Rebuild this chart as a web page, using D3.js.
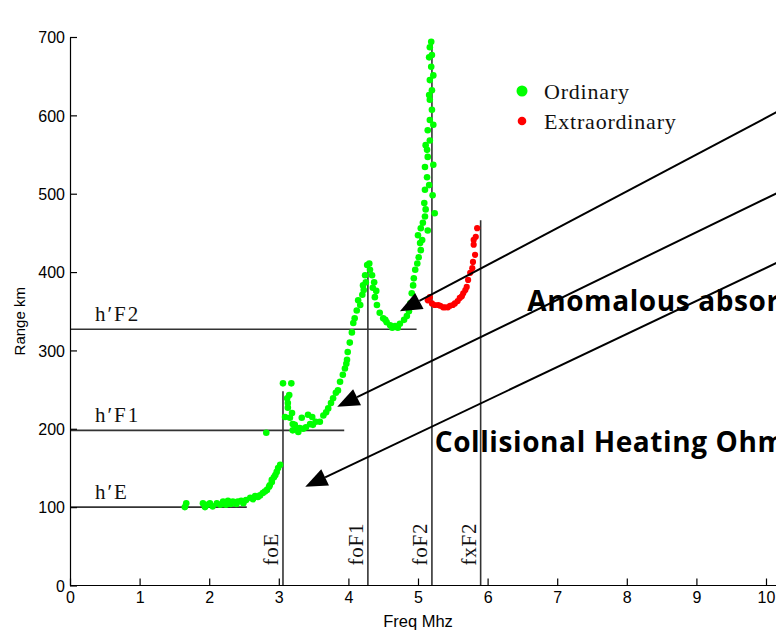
<!DOCTYPE html>
<html><head><meta charset="utf-8">
<script src="https://cdn.jsdelivr.net/npm/d3@7"></script>
<style>body{margin:0;background:#fff}svg{display:block}</style>
</head><body>
<svg id="c" width="776" height="636"></svg>
<script>
// ---- data (freq MHz, range km) ----
const xTicks = [0,1,2,3,4,5,6,7,8,9,10];
const yTicks = [0,100,200,300,400,500,600,700];
const ordinary = [
[1.65,100],[1.67,105],[1.91,105],[1.94,100],[1.97,103],[2.01,105],[2.05,101],[2.11,105],[2.16,103],[2.20,107],
[2.24,103],[2.27,108],[2.31,104],[2.34,107],[2.39,104],[2.41,107],[2.46,108],[2.49,105],[2.53,109],[2.59,112],
[2.63,110],[2.66,114],[2.70,113],[2.73,115],[2.77,118],[2.80,120],[2.83,122],[2.86,126],[2.87,128],[2.90,132],
[2.90,135],[2.93,138],[2.95,141],[2.97,145],[2.99,150],[3.02,154],[2.82,195],
[3.06,258],[3.18,258],[3.12,239],[3.13,233],[3.09,215],[3.13,227],[3.16,214],[3.19,220],[3.15,243],[3.20,206],
[3.23,205],[3.20,198],[3.26,201],[3.30,201],[3.28,196],[3.33,214],[3.35,200],[3.39,202],[3.42,218],[3.45,206],
[3.48,215],[3.49,205],[3.53,209],[3.59,209],[3.64,217],[3.68,221],[3.71,226],[3.75,233],[3.78,239],[3.82,246],
[3.85,249],[3.88,260],[3.92,269],[3.95,277],[3.97,283],[3.98,288],[3.99,298],[4.02,310],[4.05,323],[4.07,335],
[4.09,341],[4.12,351],[4.17,358],[4.14,364],[4.20,371],[4.21,383],[4.22,377],[4.24,396],[4.25,387],[4.27,409],
[4.30,411],[4.31,403],[4.34,396],[4.35,380],[4.37,387],[4.38,368],[4.40,376],[4.41,358],[4.45,348],[4.50,341],
[4.55,336],[4.60,332],[4.67,331],[4.74,334],[4.80,339],[4.84,344],[4.87,350],[4.89,360],[4.91,373],[4.93,383],
[4.94,392],[4.96,403],[4.99,411],[5.01,419],[5.04,428],[5.03,437],[5.00,447],[5.04,456],[5.07,463],[5.10,471],
[5.14,453],[5.24,475],[5.09,488],[5.10,505],[5.13,521],[5.10,534],[5.14,547],[5.13,556],[5.17,568],[5.14,581],
[5.17,594],[5.20,607],[5.17,620],[5.20,632],[5.17,645],[5.19,662],[5.16,674],[5.17,687],[5.19,694],
[5.06,441],[5.11,480],[5.21,498],[5.16,511],[5.22,537],[5.11,562],[5.22,588],[5.16,626],[5.22,651],[5.20,677],
[4.63,329],[4.71,329],[4.53,339]
];
const extraordinary = [
[5.14,364],[5.17,368],[5.20,360],[5.24,358],[5.29,358],[5.32,357],[5.36,355],[5.39,355],[5.43,355],[5.46,357],
[5.50,358],[5.53,360],[5.57,363],[5.60,367],[5.63,369],[5.65,373],[5.68,377],[5.70,381],[5.72,390],[5.75,399],
[5.78,405],[5.79,413],[5.82,422],[5.80,435],[5.80,441],[5.83,445],[5.85,456]
];
// critical frequencies: [label, freq, top range]
const critical = [["foE",3.06,248],["foF1",4.28,412],["foF2",5.20,695],["fxF2",5.90,466]];
// virtual heights: [label, range, end freq]
const heights = [["h\u2032E",100,2.54],["h\u2032F1",198,3.94],["h\u2032F2",327,4.98]];
// annotation arrows: [tip freq, tip range, tail freq, tail range]
const arrows = [[4.74,350,10.3,611],[3.84,228,10.3,507],[3.38,126,10.3,418]];
const notes = [["Anomalous absorption",6.57,350],["Collisional Heating Ohmic",5.24,170]];
const legendItems = [["Ordinary","#00ff00"],["Extraordinary","#ff0000"]];

// ---- drawing ----
const svg = d3.select("#c");
const x = d3.scaleLinear().domain([0,10]).range([70,766]);
const y = d3.scaleLinear().domain([0,700]).range([585.5,37]);

const tickFont = "'Liberation Sans', Arial, sans-serif";
const serif = "'Liberation Serif', 'Times New Roman', serif";

// reference lines
svg.append("g").selectAll("line").data(critical).join("line")
  .attr("x1",d=>x(d[1])).attr("x2",d=>x(d[1]))
  .attr("y1",y(0)).attr("y2",d=>y(d[2]))
  .attr("stroke","#333").attr("stroke-width",1.6);
svg.append("g").selectAll("line").data(heights).join("line")
  .attr("x1",x(0)).attr("x2",d=>x(d[2]))
  .attr("y1",d=>y(d[1])).attr("y2",d=>y(d[1]))
  .attr("stroke","#333").attr("stroke-width",1.6);

// points
svg.append("g").selectAll("circle").data(ordinary).join("circle")
  .attr("cx",d=>x(d[0])).attr("cy",d=>y(d[1])).attr("r",3.3).attr("fill","#00ff00");
svg.append("g").selectAll("circle").data(extraordinary).join("circle")
  .attr("cx",d=>x(d[0])).attr("cy",d=>y(d[1])).attr("r",3.1).attr("fill","#ff0000");

// labels for critical freq (rotated)
svg.append("g").selectAll("text").data(critical).join("text")
  .attr("transform",d=>`translate(${x(d[1])-5},${y(0)-20}) rotate(-90)`)
  .attr("font-family",serif).attr("font-size",21).attr("letter-spacing",0.8)
  .attr("fill","#111").text(d=>d[0]);
svg.append("g").selectAll("text").data(heights).join("text")
  .attr("x",x(0)+25).attr("y",d=>y(d[1])-8)
  .attr("font-family",serif).attr("font-size",21).attr("letter-spacing",2)
  .attr("fill","#111").text(d=>d[0]);

// axes
const ax = svg.append("g").attr("transform",`translate(0,${y(0)})`)
  .call(d3.axisBottom(x).tickValues(xTicks).tickSizeInner(-7).tickSizeOuter(0).tickPadding(6));
const ay = svg.append("g").attr("transform",`translate(${x(0)},0)`)
  .call(d3.axisLeft(y).tickValues(yTicks).tickSizeInner(-7).tickSizeOuter(0).tickPadding(5));
[ax,ay].forEach(g=>{
  g.selectAll("text").attr("font-family",tickFont).attr("font-size",16).attr("fill","#000");
  g.select(".domain").attr("stroke","#000").attr("stroke-width",1.2);
  g.selectAll(".tick line").attr("stroke","#000").attr("stroke-width",1.2);
});
ax.select(".domain").attr("d",`M${x(0)},0H776`);
ay.selectAll(".tick text").attr("dy","0.36em");

svg.append("text").attr("x",(x(0)+x(10))/2).attr("y",627).attr("text-anchor","middle")
  .attr("font-family",tickFont).attr("font-size",16.5).text("Freq Mhz");
svg.append("text").attr("transform",`translate(25,${(y(0)+y(700))/2+10}) rotate(-90)`)
  .attr("text-anchor","middle").attr("font-family",tickFont).attr("font-size",15).text("Range km");

// legend
const lg = svg.append("g").selectAll("g").data(legendItems).join("g")
  .attr("transform",(d,i)=>`translate(522,${91+i*30})`);
lg.append("circle").attr("r",(d,i)=>i?4.3:5.5).attr("fill",d=>d[1]);
lg.append("text").attr("x",22).attr("y",8).attr("font-family",serif).attr("font-size",22)
  .attr("letter-spacing",0.8).attr("fill","#111").text(d=>d[0]);

// arrows
const ag = svg.append("g");
arrows.forEach(a=>{
  const tx=x(a[0]), ty=y(a[1]), ex=x(a[2]), ey=y(a[3]);
  const dx=ex-tx, dy=ey-ty, L=Math.hypot(dx,dy), ux=dx/L, uy=dy/L;
  const hl=22, hw=9;
  const bx=tx+ux*hl, by=ty+uy*hl;
  ag.append("line").attr("x1",bx).attr("y1",by).attr("x2",ex).attr("y2",ey)
    .attr("stroke","#000").attr("stroke-width",2);
  ag.append("polygon").attr("points",
    `${tx},${ty} ${bx-uy*hw},${by+ux*hw} ${bx+uy*hw},${by-ux*hw}`).attr("fill","#000");
});

// notes
svg.append("g").selectAll("text").data(notes).join("text")
  .attr("x",d=>x(d[1])).attr("y",d=>y(d[2]))
  .attr("font-family","'Open Sans', Lato, sans-serif").attr("font-weight",700)
  .attr("font-size",28).attr("letter-spacing",0.6).attr("fill","#000").text(d=>d[0]);
</script>
</body></html>
